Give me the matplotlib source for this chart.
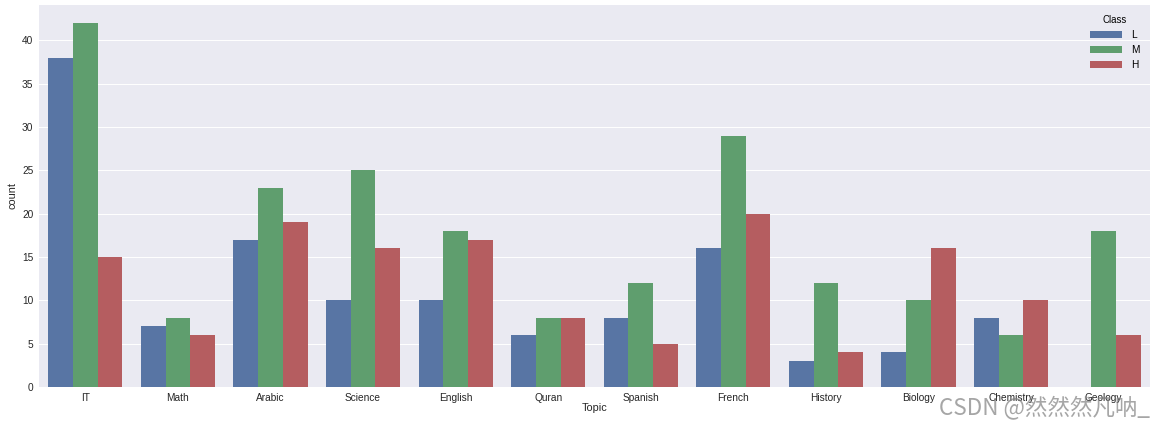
import matplotlib
matplotlib.use("Agg")
import matplotlib.pyplot as plt
import numpy as np

topics = ["IT", "Math", "Arabic", "Science", "English", "Quran", "Spanish",
          "French", "History", "Biology", "Chemistry", "Geology"]
classes = ["L", "M", "H"]
count_L = [38, 7, 17, 10, 10, 6, 8, 16, 3, 4, 8, 0]
count_M = [42, 8, 23, 25, 18, 8, 12, 29, 12, 10, 6, 18]
count_H = [15, 6, 19, 16, 17, 8, 5, 20, 4, 16, 10, 6]
colors = ["#5875A4", "#5F9E6E", "#B55D60"]

plt.rcParams['font.family'] = ['Liberation Sans', 'DejaVu Sans']
DPI = 58.1
fig = plt.figure(figsize=(1162 / DPI, 424 / DPI), dpi=DPI)
ax = fig.add_axes([0.0336, 0.0873, 0.956, 0.901])
ax.set_facecolor("#EAEAF2")
for s in ax.spines.values():
    s.set_visible(False)

x = np.arange(len(topics))
w = 0.8 / 3
for i, (vals, c, lab) in enumerate(zip([count_L, count_M, count_H], colors, classes)):
    ax.bar(x - 0.4 + w * (i + 0.5), vals, width=w, color=c, label=lab, zorder=2)

ax.set_xlim(-0.5, len(topics) - 0.5)
ax.set_ylim(0, 44.1)
ax.set_yticks(range(0, 45, 5))
ax.yaxis.grid(True, color="white", linewidth=1.2, zorder=0)
ax.set_axisbelow(True)
ax.set_xticks(x)
ax.set_xticklabels(topics)
ax.tick_params(axis="both", length=0, labelsize=12.5, colors="#262626", pad=7)
ax.set_xlabel("Topic", fontsize=13.5, color="#262626", labelpad=1)
ax.set_ylabel("count", fontsize=13.5, color="#262626", labelpad=6)

leg = ax.legend(title="Class", loc="upper right", frameon=False, fontsize=12.5,
                title_fontsize=12, handlelength=3.2, borderaxespad=0.6,
                handletextpad=0.9)

fig.text(0.990, 0.012, "CSDN @然然然凡呐_", ha="right", va="bottom",
         fontsize=28, color="#808080", alpha=0.7,
         family=['Noto Sans CJK SC', 'DejaVu Sans'])

fig.savefig("out.png", dpi=DPI)
